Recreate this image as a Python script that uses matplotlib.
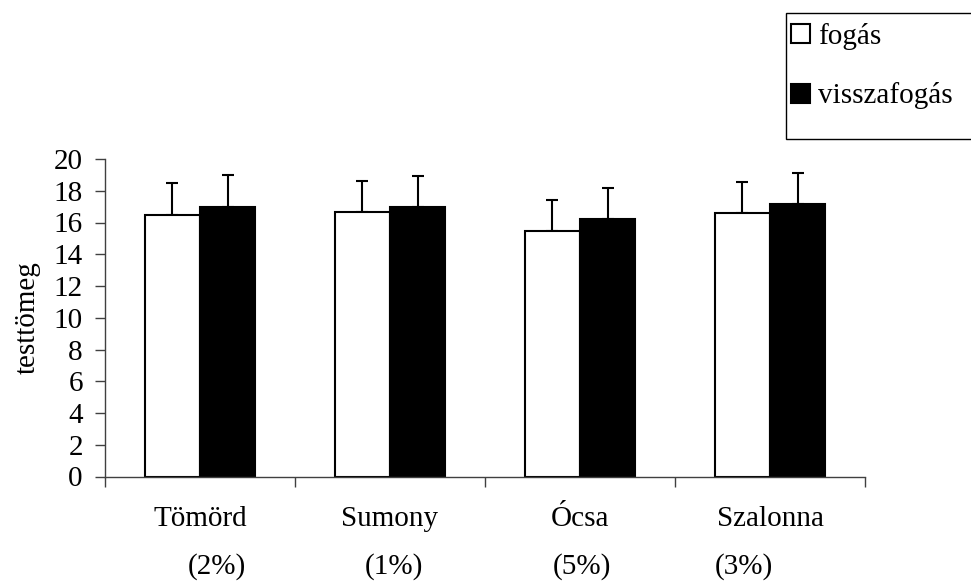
import numpy as np
import matplotlib.pyplot as plt
from matplotlib.patches import Rectangle

plt.rcParams['font.family'] = ['Liberation Serif', 'DejaVu Serif']

# data
sites = ["Tömörd", "Sumony", "Ócsa", "Szalonna"]
percents = ["(2%)", "(1%)", "(5%)", "(3%)"]
fogas = [16.5, 16.65, 15.45, 16.6]
fogas_err = [2.0, 1.98, 1.96, 1.98]
vissza = [17.0, 16.95, 16.2, 17.15]
vissza_err = [1.98, 1.97, 1.97, 1.95]
yticks = list(range(0, 21, 2))

fs = 21
fig = plt.figure(figsize=(9.71, 5.85), dpi=100)
ax = fig.add_axes([105 / 971, 1 - 476.5 / 585, 760 / 971, 317.5 / 585])

x = np.arange(len(sites))
w = 0.29
b1 = ax.bar(x - w / 2, fogas, w, color='white', edgecolor='black', lw=1.5, label='fogás', zorder=2)
b2 = ax.bar(x + w / 2, vissza, w, color='black', edgecolor='black', lw=1.5, label='visszafogás', zorder=2)
# only the upper half of the error bars is shown
ax.errorbar(x - w / 2, fogas, yerr=[np.zeros(4), fogas_err], fmt='none', ecolor='black',
            elinewidth=1.5, capsize=4.5, capthick=1.5, zorder=1)
ax.errorbar(x + w / 2, vissza, yerr=[np.zeros(4), vissza_err], fmt='none', ecolor='black',
            elinewidth=1.5, capsize=4.5, capthick=1.5, zorder=1)

ax.set_xlim(-0.5, 3.5)
ax.set_ylim(0, 20)
ax.set_yticks(yticks)
ax.tick_params(axis='y', labelsize=fs, length=7, width=1, color='#404040', pad=9)

# boundaries as major ticks, names on invisible minor ticks
ax.set_xticks(np.arange(-0.5, 4, 1.0))
ax.set_xticklabels([])
ax.set_xticks(x, minor=True)
ax.set_xticklabels(sites, minor=True)
ax.tick_params(axis='x', which='major', length=7, width=1, color='#404040')
ax.tick_params(axis='x', which='minor', length=0, labelsize=fs, pad=21)

pct_x = [0.09, 1.02, 2.01, 2.86]
for px, p in zip(pct_x, percents):
    ax.text(px, -0.285, p, transform=ax.get_xaxis_transform(), ha='center', va='center', fontsize=fs)

for s in ['top', 'right']:
    ax.spines[s].set_visible(False)
for s in ['left', 'bottom']:
    ax.spines[s].set_color('#404040')
    ax.spines[s].set_linewidth(1)

ax.set_ylabel("testtömeg", fontsize=fs, labelpad=9)

# legend box runs off the right edge, as in the original
fig.patches.append(Rectangle((785.5 / 971, 1 - 139 / 585), 0.25, 126 / 585, transform=fig.transFigure,
                             facecolor='white', edgecolor='black', lw=1))
fig.legend(handles=[b1, b2], loc='upper left', bbox_to_anchor=(785.5 / 971, 1 - 17 / 585),
           frameon=False, fontsize=fs, handlelength=0.65, handleheight=0.65, handletextpad=0.25,
           labelspacing=1.12, borderpad=0.2, borderaxespad=0)

fig.savefig('out.png', dpi=100)
